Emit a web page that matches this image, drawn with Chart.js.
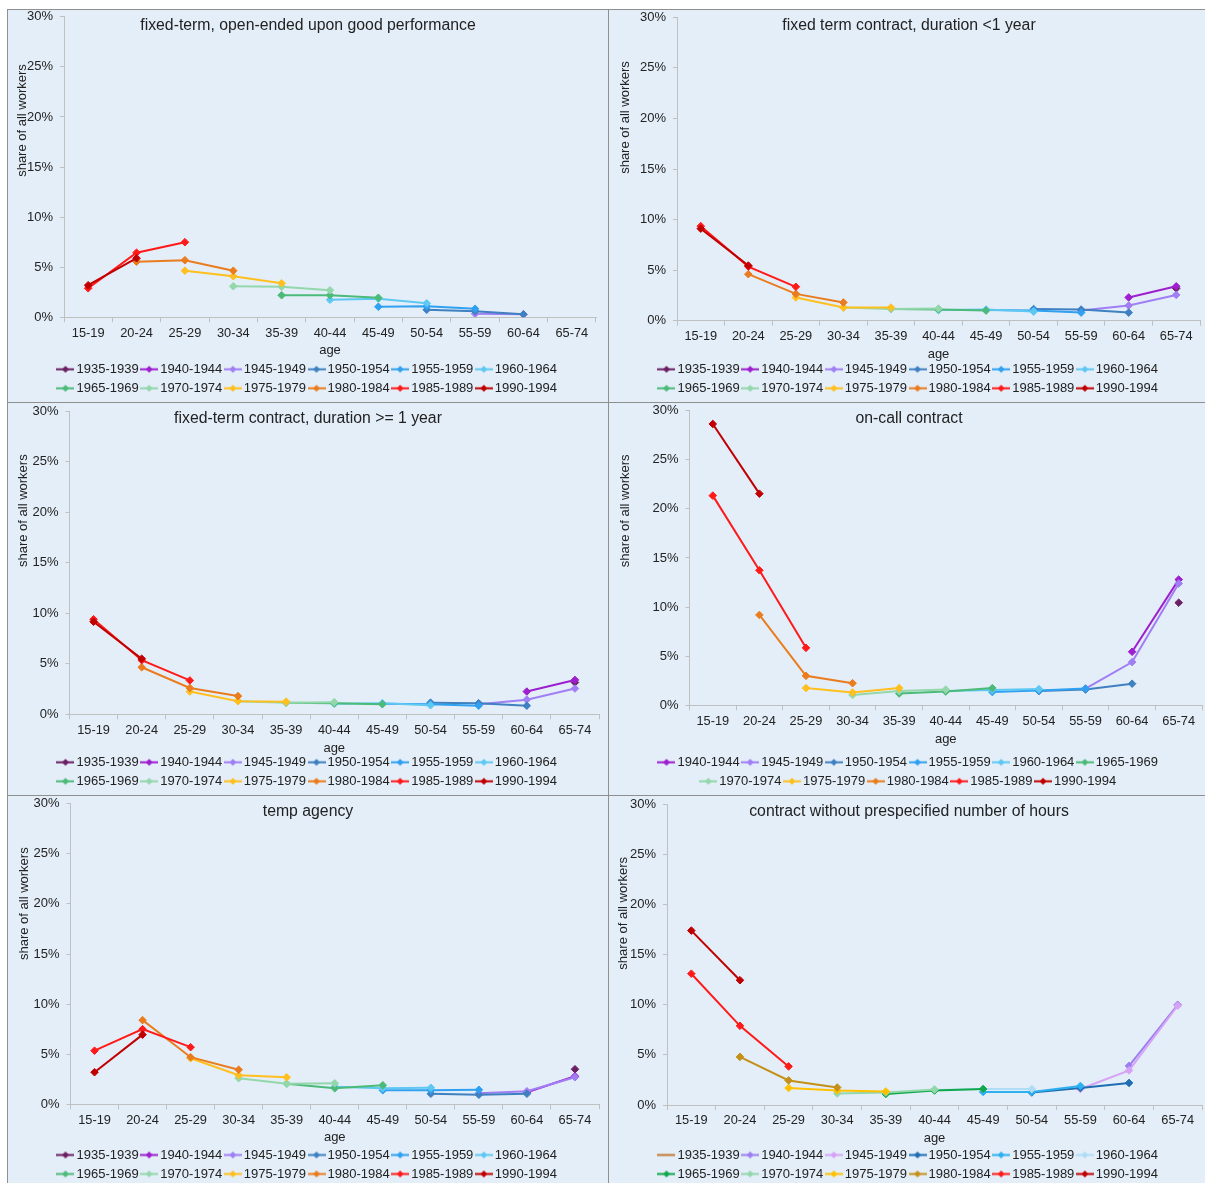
<!DOCTYPE html>
<html>
<head>
<meta charset="utf-8">
<script src="https://cdn.jsdelivr.net/npm/chart.js@4.4.1/dist/chart.umd.min.js"></script>
<style>
  html, body { margin: 0; padding: 0; width: 1205px; height: 1183px; overflow: hidden; background: #fff; }
  #frame { position: absolute; left: 7px; top: 9px; width: 1210px; height: 1180px; background: #e4eef8;
           border-left: 1px solid #8f8f8f; border-top: 1px solid #8f8f8f; }
  .hline { position: absolute; left: 7px; width: 1210px; height: 1px; background: #8f8f8f; }
  .vline { position: absolute; left: 608px; top: 9px; width: 1px; height: 1180px; background: #8f8f8f; }
  canvas { position: absolute; }
</style>
</head>
<body>
<div id="frame"></div>
<div class="hline" style="top:402px"></div>
<div class="hline" style="top:795px"></div>
<div class="vline"></div>
<canvas id="c1"></canvas>
<canvas id="c2"></canvas>
<canvas id="c3"></canvas>
<canvas id="c4"></canvas>
<canvas id="c5"></canvas>
<canvas id="c6"></canvas>
<script>
const _ = null;
const ages = ['15-19', '20-24', '25-29', '30-34', '35-39', '40-44', '45-49', '50-54', '55-59', '60-64', '65-74'];
const cohorts = ['1935-1939', '1940-1944', '1945-1949', '1950-1954', '1955-1959', '1960-1964',
                 '1965-1969', '1970-1974', '1975-1979', '1980-1984', '1985-1989', '1990-1994'];
const yTicks = [0, 5, 10, 15, 20, 25, 30];

// one row per cohort, in cohorts order (share of all workers, %)
const openEnded = [
  [_, _, _, _, _, _, _, _, _, _, _],
  [_, _, _, _, _, _, _, _, _, _, _],
  [_, _, _, _, _, _, _, _, 0.35, 0.3, _],
  [_, _, _, _, _, _, _, 0.75, 0.6, 0.3, _],
  [_, _, _, _, _, _, 1.05, 1.1, 0.85, _, _],
  [_, _, _, _, _, 1.75, 1.85, 1.4, _, _, _],
  [_, _, _, _, 2.2, 2.2, 1.95, _, _, _, _],
  [_, _, _, 3.1, 3.05, 2.7, _, _, _, _, _],
  [_, _, 4.65, 4.1, 3.4, _, _, _, _, _, _],
  [_, 5.55, 5.7, 4.65, _, _, _, _, _, _, _],
  [2.9, 6.45, 7.5, _, _, _, _, _, _, _, _],
  [3.2, 5.9, _, _, _, _, _, _, _, _, _]
];
const shortTerm = [
  [_, _, _, _, _, _, _, _, _, _, 3.2],
  [_, _, _, _, _, _, _, _, _, 2.3, 3.4],
  [_, _, _, _, _, _, _, _, 1.0, 1.5, 2.55],
  [_, _, _, _, _, _, _, 1.15, 1.1, 0.8, _],
  [_, _, _, _, _, _, 1.05, 1.0, 0.8, _, _],
  [_, _, _, _, _, 1.05, 1.1, 0.9, _, _, _],
  [_, _, _, _, 1.15, 1.1, 1.0, _, _, _, _],
  [_, _, _, 1.3, 1.15, 1.2, _, _, _, _, _],
  [_, _, 2.3, 1.3, 1.3, _, _, _, _, _, _],
  [_, 4.6, 2.65, 1.8, _, _, _, _, _, _, _],
  [9.35, 5.35, 3.35, _, _, _, _, _, _, _, _],
  [9.1, 5.45, _, _, _, _, _, _, _, _, _]
];
const longTerm = [
  [_, _, _, _, _, _, _, _, _, _, 3.15],
  [_, _, _, _, _, _, _, _, _, 2.25, 3.4],
  [_, _, _, _, _, _, _, _, 1.0, 1.45, 2.55],
  [_, _, _, _, _, _, _, 1.15, 1.1, 0.85, _],
  [_, _, _, _, _, _, 1.05, 1.0, 0.85, _, _],
  [_, _, _, _, _, 1.05, 1.1, 0.9, _, _, _],
  [_, _, _, _, 1.15, 1.1, 1.0, _, _, _, _],
  [_, _, _, 1.3, 1.15, 1.2, _, _, _, _, _],
  [_, _, 2.25, 1.3, 1.25, _, _, _, _, _, _],
  [_, 4.65, 2.6, 1.8, _, _, _, _, _, _, _],
  [9.4, 5.35, 3.35, _, _, _, _, _, _, _, _],
  [9.15, 5.5, _, _, _, _, _, _, _, _, _]
];
const onCall = [
  [_, _, _, _, _, _, _, _, _, _, 10.45],
  [_, _, _, _, _, _, _, _, _, 5.45, 12.8],
  [_, _, _, _, _, _, _, _, 1.7, 4.4, 12.4],
  [_, _, _, _, _, _, _, 1.45, 1.6, 2.2, _],
  [_, _, _, _, _, _, 1.35, 1.5, 1.7, _, _],
  [_, _, _, _, _, 1.45, 1.55, 1.65, _, _, _],
  [_, _, _, _, 1.2, 1.4, 1.75, _, _, _, _],
  [_, _, _, 1.05, 1.45, 1.6, _, _, _, _, _],
  [_, _, 1.75, 1.3, 1.75, _, _, _, _, _, _],
  [_, 9.2, 3.0, 2.25, _, _, _, _, _, _, _],
  [21.35, 13.75, 5.85, _, _, _, _, _, _, _, _],
  [28.65, 21.55, _, _, _, _, _, _, _, _, _]
];
const tempAgency = [
  [_, _, _, _, _, _, _, _, _, _, 3.5],
  [_, _, _, _, _, _, _, _, _, 1.2, 2.8],
  [_, _, _, _, _, _, _, _, 1.1, 1.3, 2.7],
  [_, _, _, _, _, _, _, 1.05, 0.95, 1.05, _],
  [_, _, _, _, _, _, 1.4, 1.4, 1.45, _, _],
  [_, _, _, _, _, 1.75, 1.6, 1.65, _, _, _],
  [_, _, _, _, 2.05, 1.6, 1.9, _, _, _, _],
  [_, _, _, 2.6, 2.05, 2.1, _, _, _, _, _],
  [_, _, 4.6, 2.9, 2.7, _, _, _, _, _, _],
  [_, 8.4, 4.7, 3.45, _, _, _, _, _, _, _],
  [5.35, 7.5, 5.7, _, _, _, _, _, _, _, _],
  [3.2, 6.95, _, _, _, _, _, _, _, _, _]
];
const flexHours = [
  [_, _, _, _, _, _, _, _, _, _, _],
  [_, _, _, _, _, _, _, _, _, 3.9, 10.0],
  [_, _, _, _, _, _, _, _, 1.6, 3.45, 9.9],
  [_, _, _, _, _, _, _, 1.25, 1.7, 2.2, _],
  [_, _, _, _, _, _, 1.3, 1.3, 1.9, _, _],
  [_, _, _, _, _, 1.5, 1.6, 1.6, _, _, _],
  [_, _, _, _, 1.1, 1.45, 1.6, _, _, _, _],
  [_, _, _, 1.15, 1.25, 1.55, _, _, _, _, _],
  [_, _, 1.7, 1.45, 1.35, _, _, _, _, _, _],
  [_, 4.8, 2.45, 1.75, _, _, _, _, _, _, _],
  [13.1, 7.9, 3.85, _, _, _, _, _, _, _, _],
  [17.4, 12.45, _, _, _, _, _, _, _, _, _]
];

const mainColors = ['#6b1f63', '#9d1fcf', '#a07ef4', '#3f80c0', '#30a0f0', '#5ec8f3',
                    '#4cba78', '#93d7ab', '#ffbf1f', '#ea7c1e', '#ff1a1a', '#c00000'];
const hoursColors = ['#c0772f', '#9b7ff0', '#d7a3f5', '#1f6db3', '#2db0ef', '#b0dcf5',
                     '#10a84c', '#93d7ab', '#ffc000', '#c49018', '#ff1a1a', '#c00000'];

const TEXT = '#222222';
const AXIS = '#c0c0c0';
Chart.defaults.font.family = '"Liberation Sans", Arial, sans-serif';
Chart.defaults.color = TEXT;

// line + diamond sample used as legend symbol
function legendMark(color, withPoint) {
  const c = document.createElement('canvas');
  c.width = 18; c.height = 9;
  const g = c.getContext('2d');
  g.strokeStyle = color; g.lineWidth = 2;
  g.beginPath(); g.moveTo(0, 4.5); g.lineTo(18, 4.5); g.stroke();
  if (withPoint) {
    g.fillStyle = color;
    g.beginPath(); g.moveTo(9, 1); g.lineTo(12.5, 4.5); g.lineTo(9, 8); g.lineTo(5.5, 4.5); g.closePath(); g.fill();
  }
  return c;
}

const panelText = {
  id: 'panelText',
  afterDraw(chart, args, o) {
    const ctx = chart.ctx;
    ctx.save();
    ctx.fillStyle = TEXT;
    ctx.textAlign = 'center';
    ctx.textBaseline = 'middle';
    ctx.font = '15.8px "Liberation Sans", Arial, sans-serif';
    ctx.fillText(o.title, o.tx, o.ty);
    ctx.translate(o.yx, o.yy);
    ctx.rotate(-Math.PI / 2);
    ctx.font = '13px "Liberation Sans", Arial, sans-serif';
    ctx.fillText('share of all workers', 0, 0);
    ctx.restore();
  }
};

// keeps the legend box at a fixed height so the plot area lands where it should
const legendHeight = {
  id: 'legendHeight',
  beforeUpdate(chart, args, o) {
    const lg = chart.legend;
    if (lg && !lg._fixedH) {
      const fit = lg.fit;
      lg.fit = function () { fit.call(this); this.height = o.h; };
      lg._fixedH = true;
    }
  }
};

// page geometry of each panel
const panels = [
  { id: 'c1', rows: openEnded, colors: mainColors, title: 'fixed-term, open-ended upon good performance',
    L: 8, T: 2, W: 600, H: 400, axisX: 64, right: 596, top0: 16.3, bottom: 317.3, cx: 309,
    xh: 39.5, pb: -1.7, ty: 26, yx: 22, yy: 120.5 },
  { id: 'c2', rows: shortTerm, colors: mainColors, title: 'fixed term contract, duration <1 year',
    L: 609, T: 2, W: 602, H: 400, axisX: 677, right: 1200, top0: 17.3, bottom: 320.7, cx: 910,
    xh: 36.1, pb: -5, ty: 26, yx: 625, yy: 117.5 },
  { id: 'c3', rows: longTerm, colors: mainColors, title: 'fixed-term contract, duration >= 1 year',
    L: 8, T: 395, W: 600, H: 400, axisX: 69.5, right: 599, top0: 411, bottom: 714.3, cx: 309,
    xh: 35.5, pb: -6.3, ty: 418.5, yx: 23, yy: 510.7 },
  { id: 'c4', rows: onCall, colors: mainColors, title: 'on-call contract', hideLegend: ['1935-1939'],
    L: 609, T: 395, W: 602, H: 400, axisX: 689.5, right: 1202, top0: 410.7, bottom: 705.3, cx: 910,
    xh: 44.5, pb: 3, ty: 418.5, yx: 625, yy: 510.8 },
  { id: 'c5', rows: tempAgency, colors: mainColors, title: 'temp agency',
    L: 8, T: 788, W: 600, H: 400, axisX: 70.5, right: 599, top0: 803.7, bottom: 1104.3, cx: 309,
    xh: 38.2, pb: -3, ty: 811.7, yx: 24, yy: 903.7 },
  { id: 'c6', rows: flexHours, colors: hoursColors, title: 'contract without prespecified number of hours',
    noMarker: ['1935-1939'],
    L: 609, T: 788, W: 602, H: 400, axisX: 667, right: 1202, top0: 804.3, bottom: 1105, cx: 910,
    xh: 37.5, pb: -3.6, ty: 811.7, yx: 623.5, yy: 913.3 }
];

panels.forEach(p => {
  const cv = document.getElementById(p.id);
  cv.width = p.W; cv.height = p.H;
  cv.style.left = p.L + 'px'; cv.style.top = p.T + 'px';

  const pr = (p.L + p.W) - p.right;
  const pl = 2 * (p.cx - p.L) - p.W + pr;
  const yw = p.axisX - p.L - pl;
  const lh = p.H - (p.bottom - p.T) - p.xh;
  const noMarker = p.noMarker || [];
  const hidden = p.hideLegend || [];
  const marks = cohorts.map((c, i) => legendMark(p.colors[i], !noMarker.includes(c)));

  const datasets = p.rows.map((vals, i) => ({
    label: cohorts[i],
    data: vals,
    borderColor: p.colors[i],
    backgroundColor: p.colors[i],
    borderWidth: 2,
    pointStyle: 'rectRot',
    pointRadius: 3.8,
    pointBorderWidth: 1,
    spanGaps: false,
    order: p.rows.length - i
  }));

  new Chart(cv, {
    type: 'line',
    data: { labels: ages, datasets: datasets },
    options: {
      responsive: false,
      animation: false,
      layout: { padding: { left: pl, right: pr, top: p.top0 - p.T, bottom: 0 } },
      scales: {
        x: {
          offset: true,
          grid: { offset: true, drawOnChartArea: false, tickLength: 5, color: AXIS },
          border: { color: AXIS },
          ticks: { font: { size: 12.8 }, padding: 3, maxRotation: 0, autoSkip: false, color: TEXT },
          title: { display: true, text: 'age', font: { size: 13 }, color: TEXT, padding: { top: 0, bottom: p.pb } },
          afterFit: s => { s.height = p.xh; }
        },
        y: {
          min: 0, max: 30,
          afterBuildTicks: s => { s.ticks = yTicks.map(v => ({ value: v })); },
          grid: { drawOnChartArea: false, tickLength: 4, color: AXIS },
          border: { color: AXIS },
          ticks: { callback: v => v + '%', padding: 7, font: { size: 13 }, color: TEXT },
          afterFit: s => { s.width = yw; }
        }
      },
      plugins: {
        tooltip: { enabled: false },
        legend: {
          position: 'bottom',
          labels: {
            usePointStyle: true,
            pointStyleWidth: 9,
            padding: 6,
            font: { size: 13 },
            color: TEXT,
            generateLabels: chart => Chart.defaults.plugins.legend.labels.generateLabels(chart).map(it => {
              it.pointStyle = marks[it.datasetIndex];
              return it;
            }),
            filter: it => !hidden.includes(it.text),
            sort: (a, b) => a.datasetIndex - b.datasetIndex
          }
        },
        panelText: { title: p.title, tx: (p.cx - 1) - p.L, ty: p.ty - p.T, yx: p.yx - p.L, yy: p.yy - p.T },
        legendHeight: { h: lh }
      }
    },
    plugins: [panelText, legendHeight]
  });
});
</script>
</body>
</html>
